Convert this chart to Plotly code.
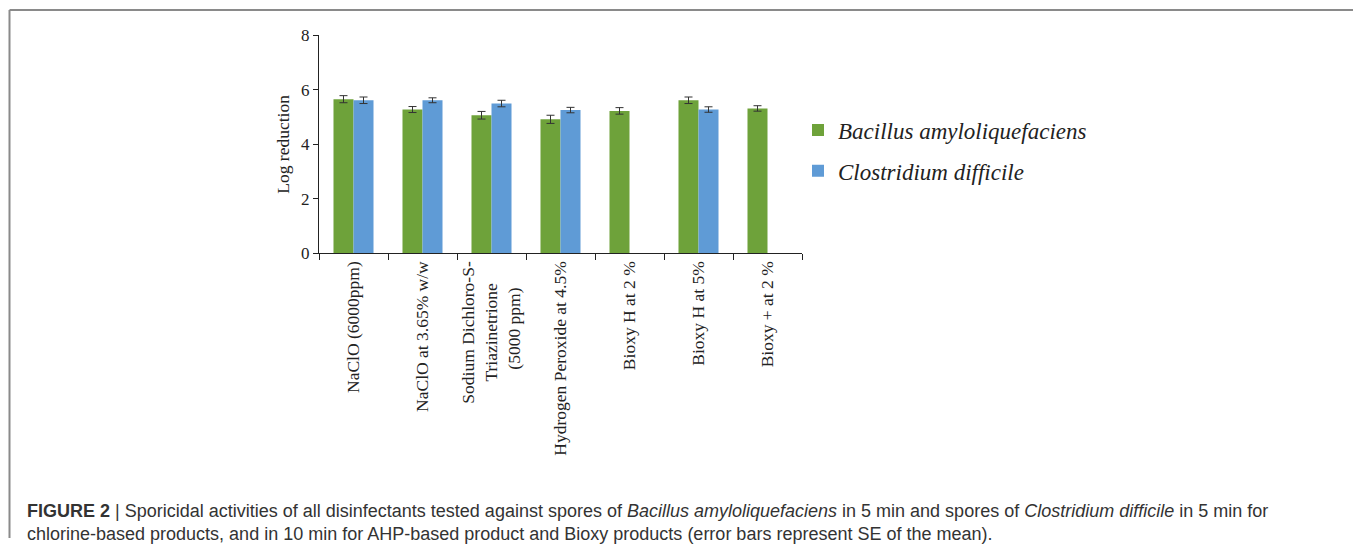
import plotly.graph_objects as go

NB = "\u00a0"
categories = [
    "NaClO (6000ppm)",
    "NaClO at 3.65% w/w",
    "Sodium Dichloro-S-<br>Triazinetrione" + NB * 5 + "<br>(5000 ppm)" + NB * 6,
    "Hydrogen Peroxide at 4.5%",
    "Bioxy H at 2 %",
    "Bioxy H at 5%",
    "Bioxy + at 2 %",
]
bacillus = [5.66, 5.28, 5.07, 4.92, 5.23, 5.62, 5.32]
bacillus_se = [0.13, 0.11, 0.14, 0.15, 0.12, 0.12, 0.10]
clostridium = [5.62, 5.62, 5.50, 5.26, None, 5.28, None]
clostridium_se = [0.12, 0.09, 0.12, 0.10, None, 0.10, None]
y_ticks = [0, 2, 4, 6, 8]

W, H = 1353, 548
GREEN = "#6ea23a"
BLUE = "#5f9bd6"
serif = "Liberation Serif"

# vertical calibration of the capture (observed = OFF + S * page_y)
OFF, S = 9.6, 0.962


def py(ref_y):
    return 1 - ((ref_y - OFF) / S) / H


def px(ref_x):
    return ref_x / W


fig = go.Figure()
fig.add_trace(go.Bar(
    x=categories, y=bacillus, name="Bacillus amyloliquefaciens",
    marker=dict(color=GREEN, line=dict(width=0)),
    error_y=dict(type="data", array=bacillus_se, color="#333333", thickness=1, width=4),
    legendgroup="a",
))
fig.add_trace(go.Bar(
    x=categories, y=clostridium, name="Clostridium difficile",
    marker=dict(color=BLUE, line=dict(width=0)),
    error_y=dict(type="data", array=clostridium_se, color="#333333", thickness=1, width=4),
    legendgroup="b",
))

fig.update_layout(
    width=W, height=H, autosize=False,
    margin=dict(l=0, r=0, t=0, b=0),
    paper_bgcolor="white", plot_bgcolor="white",
    barmode="group", bargap=0.42, bargroupgap=0,
    showlegend=True,
    legend=dict(
        x=px(798), xanchor="left", y=1 - 103 / H, yanchor="top",
        font=dict(family=serif, size=23, style="italic", color="#222222"),
        tracegroupgap=8, traceorder="grouped",
        bgcolor="rgba(0,0,0,0)",
    ),
    xaxis=dict(
        domain=[px(319), px(802)], showline=True, linecolor="#222222", linewidth=1,
        ticks="outside", tickson="boundaries", ticklen=6, tickcolor="#222222",
        tickangle=-90, tickfont=dict(family=serif, size=17.5, color="#222222"),
        showgrid=False, zeroline=False,
    ),
    yaxis=dict(
        domain=[py(253), py(36)], range=[0, 8], tickvals=y_ticks,
        showline=True, linecolor="#222222", linewidth=1,
        ticks="outside", ticklen=5, tickcolor="#222222",
        tickfont=dict(family=serif, size=17, color="#222222"),
        title=dict(text="Log reduction", font=dict(family=serif, size=17.5, color="#222222"), standoff=6),
        showgrid=False, zeroline=False,
    ),
    shapes=[
        dict(type="line", xref="paper", yref="paper", x0=px(9.5), x1=1, y0=1 - 1 / H, y1=1 - 1 / H,
             line=dict(color="#8a8a8a", width=2)),
        dict(type="line", xref="paper", yref="paper", x0=px(9.5), x1=px(9.5), y0=0, y1=1 - 1 / H,
             line=dict(color="#8a8a8a", width=2)),
    ],
    annotations=[
        dict(xref="paper", yref="paper", x=px(25), y=py(510), xanchor="left", yanchor="middle",
             showarrow=False, align="left",
             font=dict(family="Liberation Sans", size=18, color="#333333"),
             text="<b>FIGURE 2</b> | Sporicidal activities of all disinfectants tested against spores of "
                  "<i>Bacillus amyloliquefaciens</i> in 5 min and spores of <i>Clostridium difficile</i> in 5 min for"),
        dict(xref="paper", yref="paper", x=px(25), y=py(533), xanchor="middle" if False else "left", yanchor="middle",
             showarrow=False, align="left",
             font=dict(family="Liberation Sans", size=18, color="#333333"),
             text="chlorine-based products, and in 10 min for AHP-based product and Bioxy products "
                  "(error bars represent SE of the mean)."),
    ],
)

fig.write_html(
    "out.html",
    config={"displayModeBar": False},
    post_script=(
        "document.documentElement.style.margin='0';"
        "document.documentElement.style.overflow='hidden';"
        "document.body.style.margin='0';"
        "document.body.style.overflow='hidden';"
        "var gd=document.getElementById('{plot_id}');"
        "gd.style.position='fixed';gd.style.top='0px';gd.style.left='0px';"
    ),
)
